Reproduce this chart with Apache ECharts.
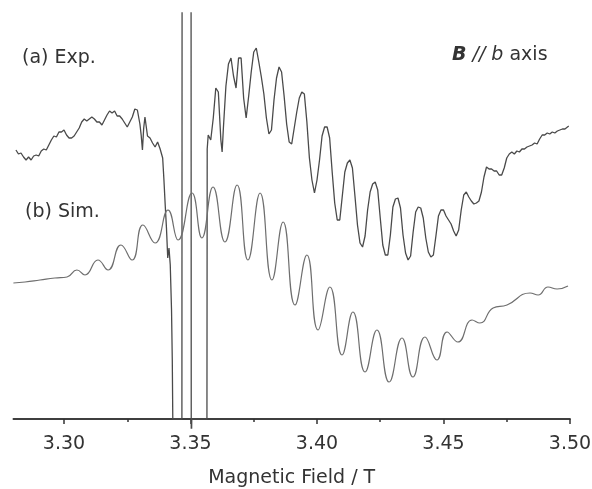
<!DOCTYPE html>
<html><head><meta charset="utf-8">
<script src="https://cdn.jsdelivr.net/npm/echarts@6/dist/echarts.min.js"></script>
<style>html,body{margin:0;padding:0;background:#fff}#c{width:592px;height:489px}</style>
</head><body><div id="c"></div>
<script>
// Tick positions (Magnetic Field / T)
const tickValues = [3.30, 3.35, 3.40, 3.45, 3.50];
const minorTickValues = [3.325, 3.375, 3.425, 3.475];

// (a) Experimental spectrum: [field / T, intensity (arb. units)]
const expPoints = [
[3.281,269],[3.282,265],[3.283,266],[3.284,262],[3.285,259],[3.286,262],[3.287,259],[3.288,263],[3.289,264],[3.290,263],
[3.291,268],[3.292,270],[3.293,269],[3.294,274],[3.295,279],[3.296,283],[3.297,282],[3.298,287],[3.299,287],[3.300,289],
[3.301,284],[3.302,281],[3.303,281],[3.304,283],[3.305,287],[3.306,291],[3.307,297],[3.308,300],[3.309,298],[3.310,300],
[3.311,302],[3.312,300],[3.313,297],[3.314,297],[3.315,294],[3.316,299],[3.317,304],[3.318,308],[3.319,306],[3.320,308],
[3.321,303],[3.322,303],[3.323,300],[3.324,296],[3.325,292],[3.326,297],[3.327,302],[3.328,310],[3.329,309],[3.330,295],
[3.3305,284],[3.3310,269],[3.3315,291],[3.332,302],[3.333,283],[3.334,281],[3.335,276],[3.336,272],[3.337,277],[3.338,270],
[3.339,261],[3.3395,239],[3.3400,214],[3.3405,191],[3.3410,161],[3.3415,171],[3.3420,154],[3.3425,109],[3.3428,59],[3.3430,0],
[3.3466,0],[3.3467,600],[3.3502,600],[3.3503,-40],[3.3505,0],[3.3565,0],[3.3566,270],
[3.357,284],[3.358,279],[3.359,301],[3.360,331],[3.361,327],[3.362,279],[3.3625,267],[3.363,291],[3.364,333],[3.365,355],
[3.366,361],[3.367,343],[3.368,331],[3.369,361],[3.370,361],[3.371,321],[3.372,301],[3.373,323],[3.374,347],[3.375,367],
[3.376,371],[3.377,357],[3.378,342],[3.379,325],[3.380,301],[3.381,285],[3.382,289],[3.383,319],[3.384,341],[3.385,352],
[3.386,347],[3.387,323],[3.388,295],[3.389,277],[3.390,275],[3.391,291],[3.392,307],[3.393,321],[3.394,327],[3.395,325],
[3.396,297],[3.397,261],[3.398,239],[3.399,226],[3.400,239],[3.401,259],[3.402,283],[3.403,292],[3.404,292],[3.405,281],
[3.406,247],[3.407,216],[3.408,199],[3.409,199],[3.410,223],[3.411,247],[3.412,256],[3.413,259],[3.414,251],[3.415,223],
[3.416,194],[3.417,176],[3.418,172],[3.419,183],[3.420,209],[3.421,227],[3.422,235],[3.423,237],[3.424,229],[3.425,201],
[3.426,174],[3.427,164],[3.428,164],[3.429,184],[3.430,212],[3.431,220],[3.432,221],[3.433,211],[3.434,184],[3.435,166],
[3.436,159],[3.437,163],[3.438,187],[3.439,207],[3.440,212],[3.441,211],[3.442,201],[3.443,181],[3.444,167],[3.445,162],
[3.446,164],[3.447,183],[3.448,203],[3.449,209],[3.450,209],[3.451,203],[3.452,199],[3.453,195],[3.454,188],[3.455,183],
[3.456,189],[3.457,209],[3.458,224],[3.459,227],[3.460,222],[3.461,218],[3.462,215],[3.463,216],[3.464,218],[3.465,227],
[3.466,242],[3.467,252],[3.468,250],[3.469,250],[3.470,248],[3.471,248],[3.472,244],[3.473,244],[3.474,251],[3.475,261],
[3.476,265],[3.477,267],[3.478,265],[3.479,268],[3.480,267],[3.481,270],[3.482,270],[3.483,272],[3.484,273],[3.485,274],
[3.486,276],[3.487,275],[3.488,280],[3.489,284],[3.490,284],[3.491,286],[3.492,285],[3.493,287],[3.494,286],[3.495,288],
[3.496,289],[3.497,290],[3.498,290],[3.499,292],[3.4995,293]
];

// (b) Simulated spectrum: [field / T, intensity (arb. units)]
const simPoints = [
[3.2800,136],[3.2846,137],[3.2905,139],[3.2964,141],[3.3012,142],[3.3051,149],[3.3083,144],[3.3134,159],[3.3174,149],[3.3225,174],
[3.3269,159],[3.3312,194],[3.3360,176],[3.3411,209],[3.3451,179],[3.3506,226],[3.3545,181],[3.3589,232],[3.3636,177],[3.3684,234],
[3.3727,159],[3.3775,226],[3.3822,139],[3.3866,197],[3.3913,114],[3.3960,164],[3.4004,89],[3.4051,132],[3.4099,64],[3.4142,107],
[3.4190,47],[3.4237,89],[3.4285,37],[3.4336,81],[3.4379,42],[3.4427,82],[3.4474,59],[3.4514,87],[3.4557,77],[3.4613,99],
[3.4644,96],[3.4696,111],[3.4751,114],[3.4842,126],[3.4874,124],[3.4913,132],[3.4949,130],[3.4992,133]
];

const FONT = 'DejaVu Sans';
const chart = echarts.init(document.getElementById('c'), null, {renderer: 'canvas'});
chart.setOption({
  animation: false,
  backgroundColor: '#fff',
  grid: {left: 13.4, right: 22, top: 13, bottom: 61, containLabel: false, outerBoundsMode: 'none'},
  xAxis: [{
    type: 'value', min: 3.28, max: 3.50, position: 'bottom',
    axisLine: {onZero: true, onZeroAxisIndex: 0, lineStyle: {color: '#333', width: 1.5}},
    axisTick: {customValues: tickValues, length: 5, lineStyle: {color: '#333', width: 1.5}},
    axisLabel: {customValues: tickValues, formatter: v => v.toFixed(2), margin: 7,
      color: '#333', fontSize: 19, fontFamily: FONT},
    splitLine: {show: false},
    name: 'Magnetic Field / T', nameLocation: 'middle', nameGap: 41, nameMoveOverlap: false,
    nameTextStyle: {color: '#333', fontSize: 19, fontFamily: FONT}
  }, {
    type: 'value', min: 3.28, max: 3.50, position: 'bottom',
    axisLine: {onZero: true, onZeroAxisIndex: 1, lineStyle: {color: '#333', width: 1.5}},
    axisTick: {customValues: minorTickValues, length: 3, lineStyle: {color: '#333', width: 1.5}},
    axisLabel: {show: false},
    splitLine: {show: false}
  }],
  yAxis: [
    {type: 'value', min: -9, max: 406, show: false},
    {type: 'value', min: -9, max: 406, show: false}
  ],
  series: [{
    type: 'line', name: 'Exp.', data: expPoints, showSymbol: false, smooth: false,
    xAxisIndex: 0, yAxisIndex: 0,
    lineStyle: {color: '#4a4a4a', width: 1.3}, clip: true
  }, {
    type: 'line', name: 'Sim.', data: simPoints, showSymbol: false, smooth: 0.5,
    xAxisIndex: 0, yAxisIndex: 0,
    lineStyle: {color: '#6e6e6e', width: 1.2}, clip: true
  }],
  graphic: [
    {type: 'text', x: 22, y: 58, style: {text: '(a) Exp.', fill: '#333', fontSize: 19, fontFamily: FONT, verticalAlign: 'middle'}},
    {type: 'text', x: 25, y: 212, style: {text: '(b) Sim.', fill: '#333', fontSize: 19, fontFamily: FONT, verticalAlign: 'middle'}},
    {type: 'text', x: 452, y: 55, style: {
      text: '{bi|B} {i|// b} axis', fill: '#333', fontSize: 19, fontFamily: FONT, verticalAlign: 'middle',
      rich: {
        bi: {fontWeight: 'bold', fontStyle: 'italic', fontSize: 19, fontFamily: FONT, fill: '#333'},
        i: {fontStyle: 'italic', fontSize: 19, fontFamily: FONT, fill: '#333'}
      }
    }}
  ]
});
</script>
</body></html>
